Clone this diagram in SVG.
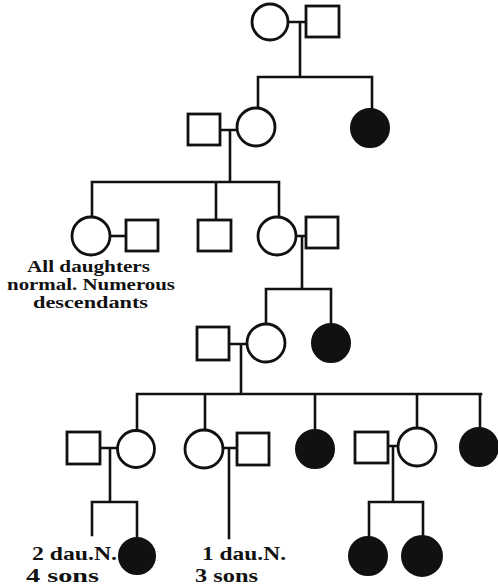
<svg xmlns="http://www.w3.org/2000/svg" width="498" height="588" viewBox="0 0 498 588">
<style>
.o{fill:#fff;stroke:#111;stroke-width:2.8}
.a{fill:#111;stroke:#111;stroke-width:2}
.c{fill:none;stroke:#111;stroke-width:2.6;stroke-linecap:square}
.t{font-family:"Liberation Serif",serif;font-weight:bold;fill:#111}
</style>
<rect width="498" height="588" fill="#fff"/>
<g id="connectors" class="c">
<path d="M288 22H306M300 22V77M258 77H372M258 77V108M372 77V109"/>
<path d="M220 130H237M230 130V182M92 182H279M92 182V217M216 182V220M279 182V217"/>
<path d="M110 236H126"/>
<path d="M296 236H306M302 236V289M266 289H331M266 289V324M331 289V324"/>
<path d="M229 344H247M241 344V394M137 394H481M137 394V430M205 394V430M315 394V430M417 394V428M480 394V428"/>
<path d="M100 448H117M110 448V502M92 502H137M92 502V535M137 502V538"/>
<path d="M223 448H237M229 448V538"/>
<path d="M388 446H398M393 446V502M369 502H423M369 502V537M423 502V536"/>
</g>
<g id="g1f"><circle class="o" cx="270" cy="22" r="18"/></g>
<g id="g1m"><rect class="o" x="306" y="6" width="33" height="31"/></g>
<g id="g2m"><rect class="o" x="188" y="114" width="32" height="31"/></g>
<g id="g2f"><circle class="o" cx="256" cy="127" r="19"/></g>
<g id="g2a"><circle class="a" cx="370" cy="128" r="19"/></g>
<g id="g3a"><circle class="o" cx="91" cy="236" r="19"/></g>
<g id="g3b"><rect class="o" x="126" y="220" width="32" height="31"/></g>
<g id="g3c"><rect class="o" x="198" y="220" width="33" height="31"/></g>
<g id="g3d"><circle class="o" cx="277" cy="236" r="19"/></g>
<g id="g3e"><rect class="o" x="306" y="217" width="32" height="31"/></g>
<g id="g4a"><rect class="o" x="197" y="327" width="32" height="33"/></g>
<g id="g4b"><circle class="o" cx="266" cy="343" r="19"/></g>
<g id="g4c"><circle class="a" cx="331" cy="343" r="19"/></g>
<g id="g5a"><rect class="o" x="67" y="432" width="33" height="32"/></g>
<g id="g5b"><circle class="o" cx="136" cy="449" r="18.5"/></g>
<g id="g5c"><circle class="o" cx="204" cy="449" r="19"/></g>
<g id="g5d"><rect class="o" x="237" y="433" width="32" height="32"/></g>
<g id="g5e"><circle class="a" cx="315" cy="449" r="19"/></g>
<g id="g5f"><rect class="o" x="355" y="432" width="33" height="31"/></g>
<g id="g5g"><circle class="o" cx="417" cy="447" r="19"/></g>
<g id="g5h"><circle class="a" cx="479" cy="447" r="19"/></g>
<g id="g6a"><circle class="a" cx="137" cy="556" r="18"/></g>
<g id="g6b"><circle class="a" cx="368" cy="556" r="19"/></g>
<g id="g6c"><circle class="a" cx="422" cy="556" r="20"/></g>
<g id="labels" class="t" font-size="16">
<text x="27" y="272" textLength="123" lengthAdjust="spacingAndGlyphs">All daughters</text>
<text x="7" y="290" textLength="168" lengthAdjust="spacingAndGlyphs">normal. Numerous</text>
<text x="33" y="308" textLength="115" lengthAdjust="spacingAndGlyphs">descendants</text>
<text x="32" y="560" font-size="19" textLength="85" lengthAdjust="spacingAndGlyphs">2 dau.N.</text>
<text x="26" y="582" font-size="19" textLength="73" lengthAdjust="spacingAndGlyphs">4 sons</text>
<text x="202" y="560" font-size="19" textLength="84" lengthAdjust="spacingAndGlyphs">1 dau.N.</text>
<text x="195" y="582" font-size="19" textLength="63" lengthAdjust="spacingAndGlyphs">3 sons</text>
</g>
</svg>
